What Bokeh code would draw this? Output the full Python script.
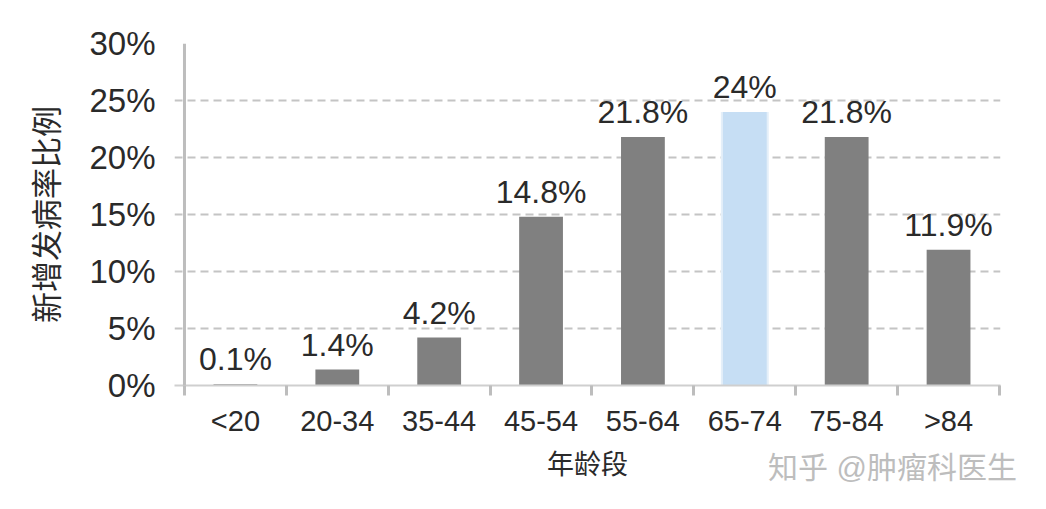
from bokeh.plotting import figure
from bokeh.models import ColumnDataSource, FixedTicker, Span, Range1d, Label, LabelSet, PrintfTickFormatter
from bokeh.core.properties import value
from bokeh.embed import file_html
from bokeh.resources import INLINE

categories = ["<20", "20-34", "35-44", "45-54", "55-64", "65-74", "75-84", ">84"]
values = [0.1, 1.4, 4.2, 14.8, 21.8, 24, 21.8, 11.9]
y_ticks = [0, 5, 10, 15, 20, 25, 30]
highlight = "65-74"
x_title = "年龄段"
y_title = "新增发病率比例"
watermark = "知乎 @肿瘤科医生"

FONT = "Liberation Sans, Noto Sans CJK SC, sans-serif"
TXT = "#2a2a2a"

xs = list(range(len(categories)))
colors = ["#c6def4" if c == highlight else "#808080" for c in categories]
labels = [f"{v:g}%" for v in values]
src = ColumnDataSource(dict(x=xs, top=values, color=colors, label=labels))

p = figure(width=1030, height=493, output_backend="svg", toolbar_location=None,
           x_range=Range1d(-0.598, 7.51), y_range=Range1d(0, 30),
           min_border_left=174, min_border_right=30, min_border_top=43, min_border_bottom=108)
p.outline_line_color = None

p.xgrid.visible = False
p.ygrid.ticker = FixedTicker(ticks=y_ticks)
p.ygrid.grid_line_color = "#c4c4c4"
p.ygrid.grid_line_width = 2
p.ygrid.grid_line_dash = "8 5"

hi = [i for i, c in enumerate(categories) if c == highlight]
p.vbar(x=[xs[i] for i in hi], top=[values[i] for i in hi], width=0.47,
       color="#e4eff9", line_color=None)
p.vbar(x="x", top="top", width=0.43, color="color", line_color=None, source=src)

p.add_layout(LabelSet(x="x", y="top", text="label", source=src, text_align="center",
                      text_baseline="alphabetic", y_offset=14, text_font=value(FONT),
                      text_font_size="32px", text_color=TXT))

p.yaxis.ticker = FixedTicker(ticks=y_ticks)
p.yaxis.formatter = PrintfTickFormatter(format="%d%%")
p.yaxis.axis_line_color = None
p.yaxis.major_tick_line_color = None
p.yaxis.minor_tick_line_color = None
p.yaxis.major_tick_out = 0
p.yaxis.major_tick_in = 0
p.yaxis.major_label_standoff = 19
p.yaxis.major_label_text_font = FONT
p.yaxis.major_label_text_font_size = "33px"
p.yaxis.major_label_text_color = TXT
p.yaxis.axis_label = y_title
p.yaxis.axis_label_text_font = FONT
p.yaxis.axis_label_text_font_style = "normal"
p.yaxis.axis_label_text_font_size = "31px"
p.yaxis.axis_label_text_color = TXT
p.yaxis.axis_label_standoff = 21

p.add_layout(Span(location=-0.5, dimension="height", line_color="#bdbdbd", line_width=3))

p.xaxis.ticker = FixedTicker(ticks=xs, minor_ticks=[i - 0.5 for i in range(len(categories) + 1)])
p.xaxis.major_label_overrides = {i: c for i, c in zip(xs, categories)}
p.xaxis.axis_line_color = "#cfcfcf"
p.xaxis.axis_line_width = 2
p.xaxis.major_tick_out = 0
p.xaxis.major_tick_in = 0
p.xaxis.major_tick_line_color = None
p.xaxis.minor_tick_out = 10
p.xaxis.minor_tick_in = 0
p.xaxis.minor_tick_line_color = "#bdbdbd"
p.xaxis.minor_tick_line_width = 3
p.xaxis.major_label_standoff = 9
p.xaxis.major_label_text_font = FONT
p.xaxis.major_label_text_font_size = "29px"
p.xaxis.major_label_text_color = TXT
p.xaxis.axis_label = x_title
p.xaxis.axis_label_text_font = FONT
p.xaxis.axis_label_text_font_style = "normal"
p.xaxis.axis_label_text_font_size = "27px"
p.xaxis.axis_label_text_color = TXT
p.xaxis.axis_label_standoff = 10

# watermark, hosted in the (roomy) top panel and drawn down at the bottom right
p.add_layout(Label(x=718, y=-424, x_units="screen", y_units="screen", text=watermark,
                   text_align="center", text_baseline="middle", text_font=FONT,
                   text_font_size="30px", text_color="#bdbdbd"), "above")

open("out.html", "w").write(file_html(p, INLINE))
